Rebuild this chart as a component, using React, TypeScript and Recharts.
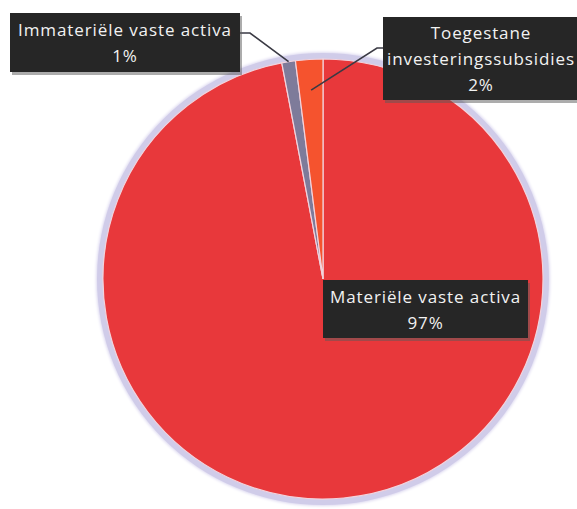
import React from "react";
import { Cell, Pie, PieChart } from "recharts";

const categories = [
  "Materiële vaste activa",
  "Immateriële vaste activa",
  "Toegestane investeringssubsidies",
];
const shares = [97, 1, 2];
const labelRows = [
  ["Materiële vaste activa"],
  ["Immateriële vaste activa"],
  ["Toegestane", "investeringssubsidies"],
];
const colors = ["#E8383B", "#7E7B9A", "#F5532E"];

const data = categories.map((name, i) => ({ name, value: shares[i] }));

// label boxes and leader elbows (layout only)
const boxes = [
  { x: 323, y: 280, w: 205, h: 58, elbow: null as number[] | null, from: null as number[] | null, depth: 0 },
  { x: 10, y: 13, w: 230, h: 59, elbow: [250, 33], from: [240, 33], depth: 1 },
  { x: 383, y: 17, w: 196, h: 83, elbow: [377, 48], from: [383, 48], depth: 0.86 },
];

const CX = 323;
const CY = 279;
const R = 220;
const RAD = Math.PI / 180;

const renderLabel = (props: any) => {
  const { cx, cy, midAngle, outerRadius, index, percent } = props;
  const b = boxes[index];
  const rows = [...labelRows[index], `${Math.round(percent * 100)}%`];
  const lineH = 26;
  const top = b.y + b.h / 2 - ((rows.length - 1) * lineH) / 2;
  let leader = null;
  if (b.elbow && b.from) {
    const ax = cx + outerRadius * b.depth * Math.cos(-midAngle * RAD);
    const ay = cy + outerRadius * b.depth * Math.sin(-midAngle * RAD);
    leader = (
      <polyline
        points={`${b.from[0]},${b.from[1]} ${b.elbow[0]},${b.elbow[1]} ${ax},${ay}`}
        fill="none"
        stroke="#3a3a44"
        strokeWidth={1.6}
      />
    );
  }
  return (
    <g>
      {leader}
      <rect x={b.x + 2} y={b.y + 3} width={b.w} height={b.h} fill="#5a5a5a" opacity={0.5} />
      <rect x={b.x} y={b.y} width={b.w} height={b.h} fill="#262626" />
      {rows.map((r, k) => (
        <text
          key={k}
          x={b.x + b.w / 2}
          y={top + k * lineH}
          textAnchor="middle"
          dominantBaseline="central"
          fill="#f2f2f2"
          fontSize={17}
          letterSpacing={0.9}
          fontFamily="'Open Sans', sans-serif"
        >
          {r}
        </text>
      ))}
    </g>
  );
};

export default function App() {
  return (
    <div style={{ position: "relative", width: 577, height: 509, background: "#fff" }}>
      <style>{"body{margin:0}"}</style>
      <div
        style={{
          position: "absolute",
          left: CX - R - 6,
          top: CY - R - 6,
          width: 2 * R + 12,
          height: 2 * R + 12,
          borderRadius: "50%",
          background: "#d0cce9",
          boxShadow: "0 0 3px 1px #dcd8f0",
        }}
      />
      <PieChart
        width={577}
        height={509}
        margin={{ top: 0, right: 0, bottom: 0, left: 0 }}
        style={{ position: "absolute", left: 0, top: 0 }}
      >
        <Pie
          data={data}
          dataKey="value"
          nameKey="name"
          cx={CX}
          cy={CY}
          outerRadius={R}
          startAngle={90}
          endAngle={-270}
          stroke="#f2d3dc"
          strokeWidth={1.2}
          label={renderLabel}
          labelLine={false}
          isAnimationActive={false}
        >
          {data.map((d, i) => (
            <Cell key={d.name} fill={colors[i]} />
          ))}
        </Pie>
      </PieChart>
    </div>
  );
}
